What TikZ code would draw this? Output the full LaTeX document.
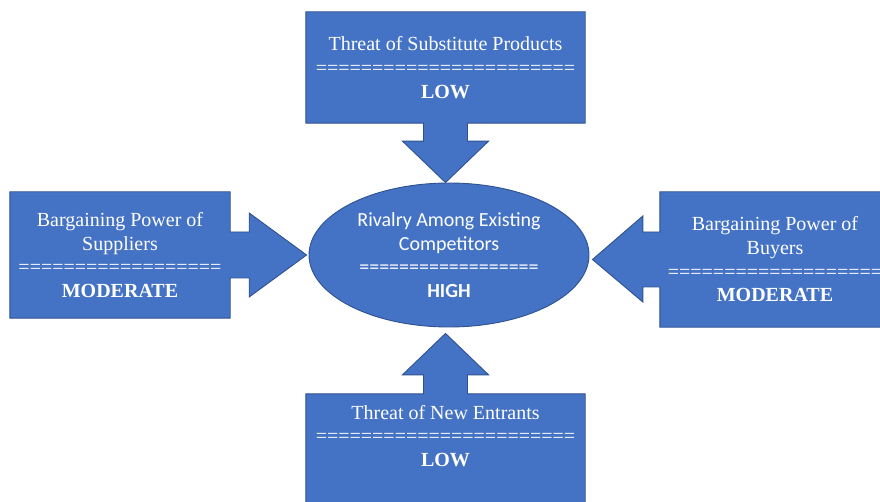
\documentclass[tikz,border=0pt]{standalone}
\usepackage{fontspec}
\setmainfont{Liberation Serif}
\newfontfamily\calibri{Carlito}
\usetikzlibrary{shapes.geometric,calc,backgrounds}

\definecolor{forceblue}{HTML}{4472C4}
\definecolor{forceedge}{HTML}{2F528F}

\tikzset{
  force/.style={fill=forceblue, draw=forceedge, line width=0.9pt},
  box/.style={rectangle, inner sep=0pt, text=white, align=center,
    font=\fontsize{20}{23.7}\selectfont},
}

\begin{document}
\begin{tikzpicture}[x=1pt, y=-1pt]
    \useasboundingbox (0,0) rectangle (880,502);

    % Rivalry in the middle
    \node[force, ellipse, minimum width=280pt, minimum height=144pt, inner sep=0pt,
        text=white, align=center, font=\calibri\fontsize{20}{23.7}\selectfont]
        (rival) at (449,255) {Rivalry Among Existing\\Competitors\\==================\\\textbf{HIGH}};

    % The four forces
    \node[box, minimum width=279pt, minimum height=111pt] (subst) at (445.5,67.5)
        {Threat of Substitute Products\\=======================\\\textbf{LOW}};
    \node[box, minimum width=220pt, minimum height=126pt] (suppl) at (120,255)
        {Bargaining Power of\\Suppliers\\==================\\\textbf{MODERATE}};
    \node[box, minimum width=230pt, minimum height=135pt] (buyer) at (775,259.5)
        {Bargaining Power of\\Buyers\\===================\\\textbf{MODERATE}};
    \node[box, minimum width=279pt, minimum height=84pt] (entr) at (445.5,436)
        {Threat of New Entrants\\=======================\\\textbf{LOW}};

    % Callout bodies with their arrows
    \begin{scope}[on background layer]
        % substitutes, pointing down
        \path[force] (subst.north west) -- (subst.north east) -- (subst.south east)
            -- ($(subst.south)+(22,0)$) -- ++(0,18) -- ++(21,0)
            -- (subst.south |- rival.north)
            -- ($(subst.south)+(-43,18)$) -- ++(21,0) -- ++(0,-18)
            -- (subst.south west) -- cycle;
        % new entrants, pointing up
        \path[force] ($(entr.south west)+(0,40)$) -- (entr.north west)
            -- ($(entr.north)+(-22,0)$) -- ++(0,-19) -- ++(-21,0)
            -- ($(entr.north |- rival.south)+(0,6)$)
            -- ($(entr.north)+(43,-19)$) -- ++(-21,0) -- ++(0,19)
            -- (entr.north east) -- ($(entr.south east)+(0,40)$) -- cycle;
        % suppliers, pointing right
        \path[force] (suppl.north west) -- (suppl.north east)
            -- ($(suppl.east)+(0,-23)$) -- ++(19,0) -- ++(0,-19)
            -- ($(rival.west |- suppl.east)+(-2,0)$)
            -- ($(suppl.east)+(19,42)$) -- ++(0,-19) -- ++(-19,0)
            -- (suppl.south east) -- (suppl.south west) -- cycle;
        % buyers, pointing left
        \path[force] (buyer.north east) -- (buyer.north west)
            -- ($(buyer.west)+(0,-27.5)$) -- ++(-17,0) -- ++(0,-16)
            -- ($(rival.east |- buyer.west)+(3,0)$)
            -- ($(buyer.west)+(-17,42.5)$) -- ++(0,-15) -- ++(17,0)
            -- (buyer.south west) -- (buyer.south east) -- cycle;
    \end{scope}
\end{tikzpicture}
\end{document}
